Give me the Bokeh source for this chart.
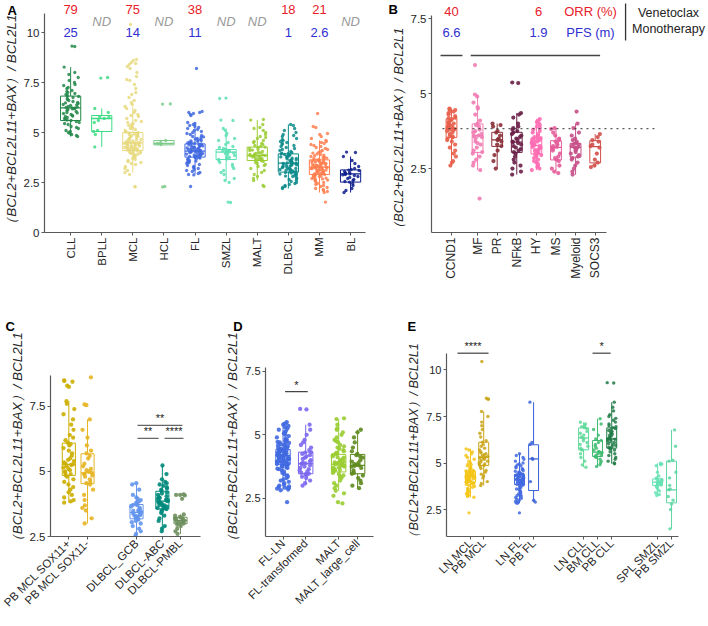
from math import pi
from bokeh.plotting import figure
from bokeh.layouts import column, row
from bokeh.models import (ColumnDataSource, Range1d, FixedTicker, CustomJSTickFormatter,
                          LabelSet, Label)
from bokeh.core.properties import value
from bokeh.transform import jitter
from bokeh.embed import file_html
from bokeh.resources import INLINE

FONT = "Liberation Sans"
YLAB = "（BCL2+BCL2L11+BAX）/ BCL2L1"
NB = "\u00a0"

# ---------------- Panel A data ----------------
a_names = ["CLL", "BPLL", "MCL", "HCL", "FL", "SMZL", "MALT", "DLBCL", "MM", "BL"]
a_colors = ["#23884A", "#3DDC84", "#E8D97E", "#7CCB8A", "#4169E1", "#5EE0B4",
            "#9ACD32", "#0A8A8A", "#FF7F50", "#0D1C8C"]
a_q1 = [5.6, 5.05, 4.1, 4.38, 3.77, 3.65, 3.6, 3.02, 2.9, 2.52]
a_med = [6.23, 5.7, 4.48, 4.45, 4.07, 4.02, 3.85, 3.47, 3.27, 2.93]
a_q3 = [6.82, 5.85, 5.0, 4.6, 4.43, 4.15, 4.27, 3.93, 3.63, 3.13]
a_lo = [4.8, 4.28, 3.0, 4.38, 2.9, 2.6, 2.6, 2.2, 2.0, 2.0]
a_hi = [8.27, 6.2, 6.3, 4.6, 5.5, 5.2, 5.62, 5.4, 4.6, 3.8]
a_orr = ["79", "", "75", "", "38", "", "", "18", "21", ""]
a_pfs = ["25", "", "14", "", "11", "", "", "1", "2.6", ""]
a_nd = ["", "ND", "", "ND", "", "ND", "ND", "", "", "ND"]
a_yticks = [0, 2.5, 5, 7.5, 10]

cll = [9.32, 9.3, 8.27, 8.0, 7.9, 7.75, 7.6, 7.5, 7.4, 7.35, 7.25, 7.2, 7.1, 7.05, 7.0, 6.95,
       6.9, 6.85, 6.82, 6.8, 6.75, 6.7, 6.65, 6.6, 6.55, 6.5, 6.48, 6.45, 6.4, 6.38, 6.35, 6.3,
       6.28, 6.25, 6.23, 6.22, 6.2, 6.18, 6.15, 6.1, 6.05, 6.0, 5.98, 5.95, 5.9, 5.85, 5.82,
       5.8, 5.75, 5.7, 5.65, 5.62, 5.6, 5.55, 5.5, 5.45, 5.4, 5.3, 5.25, 5.2, 5.1, 5.05, 5.0,
       4.95, 4.9, 4.85, 4.8]
bpll = [7.75, 7.72, 6.2, 6.0, 5.8, 5.75, 5.7, 5.6, 5.5, 5.1, 5.05, 4.9, 4.28]
mcl = [10.4, 8.65, 8.6, 8.5, 8.45, 8.4, 8.3, 8.2, 8.0, 7.8, 7.65, 7.6, 7.4, 7.2, 7.0, 6.9,
       6.75, 6.6, 6.5, 6.4, 6.3, 6.2, 6.1, 6.0, 5.9, 5.85, 5.8, 5.7, 5.6, 5.55, 5.5, 5.45,
       5.4, 5.35, 5.3, 5.25, 5.2, 5.15, 5.1, 5.05, 5.02, 5.0, 4.98, 4.95, 4.92, 4.9, 4.88,
       4.85, 4.82, 4.8, 4.78, 4.75, 4.72, 4.7, 4.68, 4.65, 4.62, 4.6, 4.58, 4.55, 4.53, 4.5,
       4.49, 4.48, 4.47, 4.46, 4.45, 4.43, 4.42, 4.4, 4.38, 4.36, 4.35, 4.33, 4.32, 4.3,
       4.28, 4.26, 4.25, 4.23, 4.22, 4.2, 4.18, 4.16, 4.15, 4.13, 4.12, 4.1, 4.08, 4.05,
       4.02, 4.0, 3.97, 3.95, 3.92, 3.9, 3.85, 3.8, 3.75, 3.7, 3.65, 3.6, 3.55, 3.5, 3.45,
       3.4, 3.3, 3.2, 3.1, 3.0, 2.9, 2.3, 2.28]
hcl = [6.43, 6.42, 4.6, 4.5, 4.45, 4.4, 2.3, 2.28]
fl = [8.2, 6.05, 6.0, 6.0, 5.95, 5.9, 5.85, 5.5, 5.45, 5.4, 5.35, 5.3, 5.25, 5.2, 5.15, 5.1,
      5.05, 5.0, 4.95, 4.9, 4.85, 4.8, 4.78, 4.75, 4.7, 4.68, 4.65, 4.62, 4.6, 4.58, 4.55,
      4.52, 4.5, 4.48, 4.45, 4.43, 4.42, 4.4, 4.38, 4.36, 4.35, 4.33, 4.3, 4.28, 4.27, 4.25,
      4.23, 4.22, 4.2, 4.18, 4.17, 4.15, 4.13, 4.12, 4.1, 4.09, 4.08, 4.07, 4.06, 4.05, 4.03,
      4.02, 4.0, 3.98, 3.97, 3.95, 3.93, 3.92, 3.9, 3.88, 3.86, 3.85, 3.83, 3.82, 3.8, 3.78,
      3.77, 3.75, 3.72, 3.7, 3.68, 3.65, 3.62, 3.6, 3.57, 3.55, 3.52, 3.5, 3.45, 3.4, 3.35,
      3.3, 3.25, 3.2, 3.15, 3.1, 3.05, 3.0, 2.95, 2.9, 2.88, 2.3]
smzl = [6.72, 6.7, 5.62, 5.6, 5.2, 5.1, 4.95, 4.85, 4.7, 4.6, 4.5, 4.4, 4.3, 4.25, 4.2, 4.15,
        4.12, 4.1, 4.08, 4.05, 4.03, 4.02, 4.0, 3.98, 3.95, 3.9, 3.85, 3.8, 3.75, 3.7, 3.68,
        3.65, 3.6, 3.5, 3.4, 3.3, 3.2, 3.1, 3.0, 2.9, 2.7, 2.6, 2.5, 1.52, 1.5]
malt = [5.65, 5.62, 5.4, 5.25, 5.2, 5.1, 5.0, 4.9, 4.8, 4.75, 4.7, 4.6, 4.55, 4.5, 4.45, 4.4,
        4.35, 4.3, 4.27, 4.25, 4.2, 4.15, 4.12, 4.1, 4.05, 4.0, 3.98, 3.95, 3.92, 3.9, 3.88,
        3.86, 3.85, 3.84, 3.82, 3.8, 3.78, 3.75, 3.72, 3.7, 3.68, 3.65, 3.62, 3.6, 3.55, 3.5,
        3.45, 3.4, 3.35, 3.3, 3.2, 3.1, 3.0, 2.9, 2.8, 2.7, 2.6, 2.35, 2.3]
dlbcl = [5.4, 5.35, 5.2, 5.1, 5.0, 4.9, 4.85, 4.8, 4.7, 4.65, 4.6, 4.55, 4.5, 4.45, 4.4, 4.35,
         4.3, 4.25, 4.2, 4.15, 4.1, 4.05, 4.0, 3.97, 3.95, 3.93, 3.9, 3.88, 3.85, 3.82, 3.8,
         3.78, 3.75, 3.72, 3.7, 3.68, 3.65, 3.62, 3.6, 3.58, 3.55, 3.53, 3.5, 3.48, 3.47, 3.46,
         3.45, 3.43, 3.42, 3.4, 3.38, 3.36, 3.35, 3.33, 3.3, 3.28, 3.26, 3.25, 3.22, 3.2, 3.18,
         3.16, 3.15, 3.12, 3.1, 3.08, 3.05, 3.03, 3.02, 3.0, 2.97, 2.95, 2.92, 2.9, 2.87, 2.85,
         2.82, 2.8, 2.75, 2.7, 2.65, 2.6, 2.55, 2.5, 2.45, 2.4, 2.35, 2.3, 2.25, 2.2]
mm = [5.95, 5.3, 5.25, 4.95, 4.9, 4.8, 4.7, 4.6, 4.55, 4.5, 4.45, 4.4, 4.35, 4.3, 4.25, 4.2,
      4.15, 4.1, 4.05, 4.0, 3.97, 3.93, 3.9, 3.87, 3.84, 3.8, 3.78, 3.75, 3.72, 3.7, 3.68,
      3.65, 3.63, 3.62, 3.6, 3.58, 3.56, 3.55, 3.53, 3.52, 3.5, 3.48, 3.46, 3.45, 3.43, 3.42,
      3.4, 3.38, 3.37, 3.35, 3.34, 3.32, 3.3, 3.29, 3.28, 3.27, 3.26, 3.25, 3.24, 3.22, 3.2,
      3.19, 3.18, 3.16, 3.15, 3.13, 3.12, 3.1, 3.08, 3.07, 3.05, 3.03, 3.02, 3.0, 2.98, 2.96,
      2.95, 2.93, 2.92, 2.9, 2.88, 2.86, 2.84, 2.82, 2.8, 2.78, 2.75, 2.72, 2.7, 2.68, 2.65,
      2.62, 2.6, 2.55, 2.5, 2.45, 2.4, 2.35, 2.3, 2.25, 2.2, 2.15, 2.1, 2.05, 2.0, 1.52]
bl = [4.02, 4.0, 3.8, 3.6, 3.45, 3.3, 3.2, 3.15, 3.12, 3.1, 3.05, 3.0, 2.98, 2.95, 2.93, 2.9,
      2.88, 2.85, 2.8, 2.75, 2.7, 2.65, 2.6, 2.55, 2.52, 2.45, 2.35, 2.2, 2.1, 2.0]
a_points = [cll, bpll, mcl, hcl, fl, smzl, malt, dlbcl, mm, bl]

# ---------------- Panel B data ----------------
b_names = ["CCND1", "MF", "PR", "NFkB", "HY", "MS", "Myeloid", "SOCS3"]
b_colors = ["#E8604C", "#F27CB2", "#8B3038", "#6A1F47", "#FF6EB4", "#E45C9A", "#C65088", "#D2504A"]
b_q1 = [3.54, 3.04, 3.24, 3.04, 2.99, 2.79, 2.88, 2.69]
b_med = [3.84, 3.6, 3.46, 3.38, 3.27, 3.21, 3.21, 3.23]
b_q3 = [4.16, 3.99, 3.71, 3.71, 3.52, 3.43, 3.34, 3.43]
b_lo = [2.6, 2.45, 2.5, 2.3, 2.45, 2.35, 2.3, 2.55]
b_hi = [4.5, 4.97, 4.0, 4.35, 4.15, 3.85, 4.0, 3.65]
b_threshold = 3.83
b_yticks = [2.5, 5, 7.5]
b_orr = ["40", "6", "ORR (%)"]
b_pfs = ["6.6", "1.9", "PFS (m)"]
b_therapy = ["Venetoclax", "Monotherapy"]

ccnd1 = [4.5, 4.48, 4.45, 4.42, 4.4, 4.35, 4.3, 4.25, 4.2, 4.18, 4.15, 4.12, 4.1, 4.05, 4.02,
         4.0, 3.97, 3.95, 3.92, 3.9, 3.88, 3.85, 3.84, 3.82, 3.8, 3.78, 3.75, 3.7, 3.65, 3.6,
         3.57, 3.54, 3.5, 3.45, 3.4, 3.3, 3.2, 3.1, 3.0, 2.9, 2.75, 2.7, 2.6]
mf = [5.95, 4.97, 4.9, 4.7, 4.55, 4.5, 4.3, 4.1, 4.0, 3.95, 3.9, 3.8, 3.75, 3.7, 3.65, 3.6,
      3.58, 3.55, 3.5, 3.4, 3.35, 3.3, 3.2, 3.1, 3.05, 3.0, 2.9, 2.8, 2.7, 2.6, 2.45, 1.5]
pr = [4.0, 3.95, 3.9, 3.75, 3.7, 3.6, 3.5, 3.47, 3.45, 3.4, 3.3, 3.25, 3.1, 2.95, 2.75, 2.5]
nfkb = [5.37, 5.35, 4.35, 4.3, 4.2, 4.0, 3.9, 3.85, 3.8, 3.75, 3.7, 3.65, 3.6, 3.55, 3.5, 3.45,
        3.4, 3.38, 3.35, 3.3, 3.25, 3.2, 3.15, 3.1, 3.05, 3.0, 2.9, 2.8, 2.7, 2.6, 2.5, 2.4, 2.3]
hy = [4.15, 4.1, 4.05, 4.0, 3.95, 3.9, 3.85, 3.8, 3.75, 3.7, 3.65, 3.6, 3.55, 3.52, 3.5, 3.48,
      3.45, 3.42, 3.4, 3.38, 3.35, 3.32, 3.3, 3.28, 3.27, 3.25, 3.22, 3.2, 3.18, 3.15, 3.12,
      3.1, 3.08, 3.05, 3.02, 3.0, 2.97, 2.95, 2.9, 2.85, 2.8, 2.75, 2.7, 2.65, 2.6, 2.55, 2.5, 2.45]
ms = [3.85, 3.82, 3.7, 3.6, 3.5, 3.45, 3.4, 3.35, 3.3, 3.25, 3.22, 3.2, 3.15, 3.1, 3.0, 2.9,
      2.85, 2.8, 2.75, 2.6, 2.5, 2.4, 2.35]
myeloid = [4.4, 4.0, 3.85, 3.7, 3.6, 3.5, 3.45, 3.4, 3.35, 3.32, 3.3, 3.25, 3.22, 3.2, 3.18,
           3.15, 3.1, 3.05, 3.0, 2.95, 2.9, 2.85, 2.8, 2.7, 2.6, 2.5, 2.4, 2.3]
socs3 = [3.65, 3.55, 3.45, 3.4, 3.3, 3.25, 3.2, 3.0, 2.8, 2.7, 2.6, 2.55]
b_points = [ccnd1, mf, pr, nfkb, hy, ms, myeloid, socs3]

# ---------------- Panel C data ----------------
c_names = ["PB MCL SOX11+", "PB MCL SOX11-", "DLBCL_GCB", "DLBCL-ABC", "DLBCL-PMBL"]
c_colors = ["#CCAE00", "#E6B422", "#6495ED", "#00897B", "#6E8F5E"]
c_q1 = [4.85, 4.53, 3.18, 3.56, 2.99]
c_med = [5.27, 4.95, 3.43, 3.86, 3.12]
c_q3 = [6.09, 5.68, 3.73, 4.24, 3.24]
c_lo = [3.8, 3.0, 2.52, 2.7, 2.6]
c_hi = [7.7, 7.0, 4.55, 5.23, 3.35]
c_yticks = [2.5, 5, 7.5]
c_sig_x0 = [4.67, 4.67, 6.12]
c_sig_x1 = [7.07, 5.8, 7.13]
c_sig_y = [6.77, 6.27, 6.27]
c_sig_t = ["**", "**", "****"]

sox_pos = [8.5, 8.48, 8.45, 8.3, 8.25, 7.7, 7.6, 7.4, 7.2, 7.0, 6.8, 6.6, 6.4, 6.3, 6.2, 6.1,
           6.05, 6.0, 5.9, 5.8, 5.7, 5.6, 5.5, 5.45, 5.4, 5.35, 5.3, 5.27, 5.25, 5.2, 5.15, 5.1,
           5.05, 5.0, 4.95, 4.9, 4.85, 4.8, 4.7, 4.6, 4.5, 4.4, 4.3, 4.2, 4.1, 4.0, 3.9, 3.85, 3.8]
sox_neg = [8.62, 7.58, 7.55, 7.0, 6.6, 6.3, 6.0, 5.8, 5.7, 5.6, 5.5, 5.3, 5.2, 5.1, 5.05, 5.0,
           4.95, 4.92, 4.9, 4.85, 4.8, 4.7, 4.6, 4.55, 4.5, 4.3, 4.1, 3.9, 3.7, 3.6, 3.5, 3.2, 3.0]
gcb = [4.55, 4.5, 4.3, 4.1, 4.0, 3.95, 3.9, 3.85, 3.8, 3.75, 3.72, 3.7, 3.65, 3.6, 3.55, 3.5,
       3.48, 3.45, 3.43, 3.4, 3.38, 3.35, 3.32, 3.3, 3.28, 3.25, 3.22, 3.2, 3.18, 3.15, 3.1,
       3.05, 3.0, 2.9, 2.8, 2.7, 2.6, 2.52]
abc = [5.23, 4.9, 4.7, 4.6, 4.55, 4.5, 4.45, 4.4, 4.35, 4.3, 4.25, 4.2, 4.15, 4.1, 4.05, 4.0,
       3.98, 3.95, 3.92, 3.9, 3.88, 3.86, 3.84, 3.82, 3.8, 3.77, 3.75, 3.72, 3.7, 3.68, 3.65,
       3.62, 3.6, 3.58, 3.55, 3.5, 3.45, 3.4, 3.3, 3.2, 3.1, 2.9, 2.8, 2.7]
pmbl = [4.12, 4.1, 4.1, 4.08, 3.95, 3.35, 3.3, 3.25, 3.22, 3.2, 3.18, 3.15, 3.12, 3.1, 3.08,
        3.05, 3.02, 3.0, 2.95, 2.9, 2.8, 2.7, 2.6]
c_points = [sox_pos, sox_neg, gcb, abc, pmbl]

# ---------------- Panel D data ----------------
d_names = ["FL-LN", "FL-transformed", "MALT", "MALT_large_cell"]
d_colors = ["#4169E1", "#7B68EE", "#9ACD32", "#5E8A1E"]
d_q1 = [3.84, 3.47, 3.54, 3.47]
d_med = [4.19, 3.87, 3.84, 3.8]
d_q3 = [4.42, 4.32, 4.23, 4.23]
d_lo = [2.82, 3.0, 2.8, 2.9]
d_hi = [5.5, 5.4, 5.62, 5.2]
d_yticks = [2.5, 5, 7.5]
d_sig_x0 = [1.1]
d_sig_x1 = [2.2]
d_sig_y = [6.7]
d_sig_t = ["*"]

fl_ln = [5.5, 5.45, 5.4, 5.35, 5.3, 5.25, 5.2, 5.15, 5.1, 5.05, 5.0, 4.95, 4.9, 4.85, 4.8,
         4.78, 4.75, 4.72, 4.7, 4.68, 4.65, 4.62, 4.6, 4.58, 4.55, 4.52, 4.5, 4.48, 4.45, 4.43,
         4.42, 4.4, 4.38, 4.36, 4.35, 4.33, 4.32, 4.3, 4.28, 4.27, 4.25, 4.24, 4.22, 4.21, 4.2,
         4.19, 4.18, 4.17, 4.16, 4.15, 4.13, 4.12, 4.1, 4.09, 4.08, 4.06, 4.05, 4.03, 4.02, 4.0,
         3.98, 3.96, 3.95, 3.93, 3.92, 3.9, 3.88, 3.86, 3.85, 3.84, 3.82, 3.8, 3.77, 3.75, 3.72,
         3.7, 3.67, 3.65, 3.6, 3.55, 3.5, 3.45, 3.4, 3.35, 3.3, 3.25, 3.2, 3.15, 3.1, 3.05, 3.0,
         2.97, 2.95, 2.92, 2.9, 2.88, 2.85, 2.82, 2.35]
fl_tr = [6.02, 6.0, 5.4, 5.2, 5.0, 4.8, 4.7, 4.6, 4.5, 4.4, 4.32, 4.3, 4.25, 4.2, 4.15, 4.1,
         4.05, 4.0, 3.95, 3.9, 3.88, 3.87, 3.85, 3.8, 3.75, 3.7, 3.65, 3.6, 3.55, 3.5, 3.47,
         3.45, 3.4, 3.35, 3.3, 3.2, 3.1, 3.0]
malt_lc = [5.2, 5.1, 4.9, 4.7, 4.5, 4.35, 4.25, 4.2, 4.15, 4.1, 4.0, 3.95, 3.9, 3.85, 3.82,
           3.8, 3.78, 3.75, 3.7, 3.6, 3.5, 3.47, 3.4, 3.3, 3.2, 3.1, 3.0, 2.9]
d_points = [fl_ln, fl_tr, malt, malt_lc]

# ---------------- Panel E data ----------------
e_names = ["LN MCL", "PB MCL", "LN FL", "PB FL", "LN CLL", "BM CLL", "PB CLL", "SPL SMZL", "PB SMZL"]
e_colors = ["#F5C518", "#C9A514", "#4169E1", "#3A60D8", "#5FD99A", "#3DBB70", "#1F7A45",
            "#66E3B5", "#5CD6A3"]
e_q1 = [3.97, 4.87, 3.84, 3.52, 5.71, 5.35, 5.8, 3.79, 2.86]
e_med = [4.29, 5.31, 4.11, 5.22, 6.35, 5.58, 6.3, 3.97, 3.56]
e_q3 = [4.56, 6.12, 4.38, 5.98, 6.89, 6.21, 6.89, 4.15, 5.1]
e_lo = [3.16, 3.79, 2.84, 2.9, 4.77, 4.81, 4.96, 3.25, 1.46]
e_hi = [5.76, 7.77, 5.5, 8.27, 7.19, 7.38, 8.27, 4.99, 6.78]
e_yticks = [2.5, 5, 7.5, 10]
e_sig_x0 = [0.08, 9.59]
e_sig_x1 = [2.27, 10.86]
e_sig_y = [10.9, 10.9]
e_sig_t = ["****", "*"]

ln_mcl = [5.76, 5.7, 5.6, 5.5, 5.4, 5.3, 5.2, 5.1, 5.0, 4.95, 4.9, 4.85, 4.8, 4.75, 4.7, 4.67,
          4.64, 4.6, 4.58, 4.56, 4.54, 4.52, 4.5, 4.48, 4.46, 4.44, 4.42, 4.4, 4.38, 4.36, 4.34,
          4.32, 4.3, 4.29, 4.28, 4.27, 4.26, 4.25, 4.23, 4.22, 4.2, 4.18, 4.16, 4.14, 4.12, 4.1,
          4.08, 4.06, 4.04, 4.02, 4.0, 3.98, 3.97, 3.95, 3.92, 3.9, 3.87, 3.85, 3.8, 3.75, 3.7,
          3.65, 3.6, 3.55, 3.5, 3.45, 3.4, 3.35, 3.3, 3.25, 3.2, 3.16, 2.32]
pb_mcl = [10.46, 8.48, 8.45, 8.42, 7.77, 7.5, 7.2, 7.0, 6.8, 6.6, 6.4, 6.2, 6.12, 6.0, 5.9,
          5.8, 5.7, 5.6, 5.55, 5.5, 5.45, 5.4, 5.35, 5.31, 5.28, 5.25, 5.2, 5.15, 5.1, 5.05,
          5.0, 4.95, 4.9, 4.87, 4.8, 4.7, 4.6, 4.5, 4.4, 4.3, 4.2, 4.0, 3.9, 3.79]
ln_fl = [5.5, 5.4, 5.3, 5.2, 5.1, 5.0, 4.95, 4.9, 4.85, 4.8, 4.75, 4.7, 4.65, 4.6, 4.56, 4.52,
         4.48, 4.45, 4.42, 4.4, 4.38, 4.36, 4.34, 4.32, 4.3, 4.28, 4.26, 4.24, 4.22, 4.2, 4.18,
         4.16, 4.14, 4.12, 4.11, 4.1, 4.08, 4.06, 4.04, 4.02, 4.0, 3.98, 3.96, 3.94, 3.92, 3.9,
         3.88, 3.86, 3.84, 3.8, 3.75, 3.7, 3.65, 3.6, 3.55, 3.5, 3.45, 3.4, 3.35, 3.3, 3.25,
         3.2, 3.15, 3.1, 3.05, 3.0, 2.95, 2.9, 2.86, 2.84, 2.32]
pb_fl = [8.27, 6.1, 6.0, 5.25, 5.2, 4.0, 3.0, 2.9]
ln_cll = [7.19, 7.1, 7.0, 6.95, 6.9, 6.85, 6.7, 6.6, 6.5, 6.4, 6.35, 6.3, 6.2, 6.1, 6.0, 5.9,
          5.8, 5.72, 5.7, 5.5, 5.3, 5.1, 4.9, 4.77]
bm_cll = [7.38, 7.1, 6.8, 6.5, 6.3, 6.21, 6.1, 6.0, 5.9, 5.8, 5.7, 5.62, 5.58, 5.55, 5.5, 5.45,
          5.4, 5.35, 5.3, 5.2, 5.1, 5.0, 4.9, 4.81]
pb_cll = [9.32, 9.3, 8.27, 8.0, 7.8, 7.6, 7.5, 7.4, 7.3, 7.2, 7.1, 7.0, 6.95, 6.9, 6.85, 6.8,
          6.75, 6.7, 6.65, 6.6, 6.55, 6.5, 6.45, 6.4, 6.35, 6.32, 6.3, 6.28, 6.25, 6.2, 6.15,
          6.1, 6.05, 6.0, 5.95, 5.9, 5.85, 5.8, 5.75, 5.7, 5.6, 5.5, 5.4, 5.3, 5.2, 5.1, 5.0, 4.96]
spl_smzl = [4.99, 4.95, 4.9, 4.85, 4.5, 4.3, 4.2, 4.15, 4.12, 4.1, 4.05, 4.02, 4.0, 3.98, 3.97,
            3.95, 3.92, 3.9, 3.87, 3.85, 3.82, 3.8, 3.75, 3.7, 3.6, 3.5, 3.4, 3.3, 3.25]
pb_smzl = [6.78, 5.9, 5.15, 5.1, 4.5, 4.2, 3.8, 3.6, 3.56, 3.2, 3.0, 2.8, 2.5, 1.46]
e_points = [ln_mcl, pb_mcl, ln_fl, pb_fl, ln_cll, bm_cll, pb_cll, spl_smzl, pb_smzl]

# ---------------- layout constants (category positions on numeric axes) ----------------
a_pos = list(range(len(a_names)))
b_pos = [1, 2.33, 3.33, 4.33, 5.33, 6.33, 7.33, 8.33]
c_pos = [1, 2, 4.62, 6.0, 6.97]
d_pos = [1, 2.1, 3.7, 4.62]
e_pos = [1, 1.93, 4.45, 5.44, 8.96, 9.94, 10.94, 14.17, 15.15]

AXC = "#595959"
TXC = "#262626"


def panel(width, height, xr, yr, bl, br, bt, bb, xb=None, yb=None):
    p = figure(width=width, height=height, x_range=Range1d(*xr), y_range=Range1d(*yr),
               output_backend="svg", toolbar_location=None,
               min_border_left=bl, min_border_right=br, min_border_top=bt, min_border_bottom=bb)
    p.outline_line_color = None
    p.xgrid.visible = False
    p.ygrid.visible = False
    for ax in (p.xaxis[0], p.yaxis[0]):
        ax.axis_line_color = AXC
        ax.axis_line_width = 1.2
        ax.major_tick_line_color = AXC
        ax.major_tick_out = 3
        ax.major_tick_in = 0
        ax.minor_tick_line_color = None
        ax.major_label_text_font = FONT
        ax.major_label_text_color = TXC
        ax.major_label_standoff = 2
    if xb is not None:
        p.xaxis.bounds = xb
    if yb is not None:
        p.yaxis.bounds = yb
    return p


def set_ticks(p, pos, labels, angle, xfs, yticks, yfs, ylab_fs, pad=0):
    p.xaxis.ticker = FixedTicker(ticks=pos)
    p.xaxis.formatter = CustomJSTickFormatter(args=dict(pos=pos, labels=labels), code="""
        const i = pos.findIndex(v => Math.abs(v - tick) < 1e-6);
        return i >= 0 ? labels[i] : "";
    """)
    p.xaxis.major_label_orientation = angle
    p.xaxis.major_label_text_font_size = xfs
    p.yaxis.ticker = FixedTicker(ticks=yticks)
    p.yaxis.formatter = CustomJSTickFormatter(code="return String(tick);")
    p.yaxis.major_label_text_font_size = yfs
    # trailing no-break spaces nudge the label so it centres on the drawn axis line
    p.yaxis.axis_label = YLAB + NB * pad
    p.yaxis.axis_label_text_font = FONT
    p.yaxis.axis_label_text_font_style = "italic"
    p.yaxis.axis_label_text_font_size = ylab_fs
    p.yaxis.axis_label_text_color = TXC
    p.yaxis.axis_label_standoff = 2


def draw_boxes(p, pos, q1, med, q3, lo, hi, colors, w):
    src = ColumnDataSource(dict(x=pos, q1=q1, med=med, q3=q3, lo=lo, hi=hi, c=colors,
                                xl=[x - w / 2 for x in pos], xr=[x + w / 2 for x in pos]))
    p.segment("x", "q3", "x", "hi", source=src, line_color="c", line_width=1)
    p.segment("x", "q1", "x", "lo", source=src, line_color="c", line_width=1)
    p.vbar(x="x", width=w, top="q3", bottom="q1", source=src, fill_color="white",
           fill_alpha=0.0, line_color="c", line_width=1)
    p.segment("xl", "med", "xr", "med", source=src, line_color="c", line_width=1.3)


def draw_points(p, pos, groups, colors, jw, size, alpha):
    xs, ys, cs = [], [], []
    for x, vals, c in zip(pos, groups, colors):
        xs += [x] * len(vals)
        ys += vals
        cs += [c] * len(vals)
    src = ColumnDataSource(dict(x=xs, y=ys, c=cs))
    p.scatter(x=jitter("x", width=jw, distribution="uniform"), y="y", source=src,
              size=size, fill_color="c", line_color=None, fill_alpha=alpha)


def letter(p, txt, x, y, side):
    # a panel letter placed in a side panel (not clipped to the frame)
    p.add_layout(Label(x=x, y=y, text=txt, text_font=FONT, text_font_style="bold",
                       text_font_size="13px", text_color="black", text_align="left",
                       text_baseline="top"), side)


def texts(p, xs, ys, ts, color, fs="13px", style="normal", align="center"):
    src = ColumnDataSource(dict(x=xs, y=ys, t=ts))
    p.add_layout(LabelSet(x="x", y="y", text="t", source=src, text_align=align,
                          text_baseline="middle", text_font=value(FONT), text_font_size=fs,
                          text_font_style=style, text_color=color))


def sig(p, x0, x1, yv, t, color, fs, dy):
    p.segment(x0=x0, y0=yv, x1=x1, y1=yv, line_color=color, line_width=1.3)
    src = ColumnDataSource(dict(x=[(a + b) / 2 for a, b in zip(x0, x1)], y=yv, t=t))
    p.add_layout(LabelSet(x="x", y="y", text="t", source=src, y_offset=dy,
                          text_align="center", text_baseline="bottom",
                          text_font=value(FONT), text_font_size=fs, text_color="#222222"))


# ---------------- Panel A ----------------
pA = panel(366, 312, (-0.84, 9.48), (0, 11.55), 44, 1, 1, 80, yb=(0, 10.95))
set_ticks(pA, a_pos, a_names, pi / 2, "11.5px", a_yticks, "11.5px", "13.5px", pad=3)
draw_boxes(pA, a_pos, a_q1, a_med, a_q3, a_lo, a_hi, a_colors, 0.65)
draw_points(pA, a_pos, a_points, a_colors, 0.55, 3.3, 0.85)
texts(pA, a_pos, [11.15] * 10, a_orr, "#E8202A")
texts(pA, a_pos, [10.0] * 10, a_pfs, "#2F2FD0")
texts(pA, a_pos, [10.57] * 10, a_nd, "#9A9A9A", style="italic")
letter(pA, "A", -2.03, 11.5, "below")

# ---------------- Panel B ----------------
pB = panel(342, 312, (-0.02, 14.11), (0.37, 8.07), 65, 0, 1, 80,
           xb=(-0.02, 8.91), yb=(0.37, 7.6))
set_ticks(pB, b_pos, b_names, pi / 2, "12px", b_yticks, "11.5px", "13px", pad=8)
draw_boxes(pB, b_pos, b_q1, b_med, b_q3, b_lo, b_hi, b_colors, 0.55)
draw_points(pB, b_pos, b_points, b_colors, 0.5, 4.2, 0.9)
pB.segment(x0=[0.54], y0=[b_threshold], x1=[11.41], y1=[b_threshold],
           line_color="#333333", line_width=1, line_dash="dotted")
pB.segment(x0=[b_pos[0] - 0.56, b_pos[1] - 0.35], y0=[6.27, 6.27],
           x1=[b_pos[0] + 0.56, b_pos[-1] + 0.25], y1=[6.27, 6.27],
           line_color="#444444", line_width=1.5)
texts(pB, [b_pos[0], 5.44, 8.09], [7.74] * 3, b_orr, "#E8202A")
texts(pB, [b_pos[0], 5.44, 8.09], [7.04] * 3, b_pfs, "#2F2FD0")
pB.segment(x0=[9.88], y0=[8.0], x1=[9.88], y1=[6.77], line_color="#333333", line_width=1.3)
texts(pB, [12.07, 12.07], [7.7, 7.17], b_therapy, "#222222", fs="12.5px")
letter(pB, "B", -2.21, 8.04, "below")

# ---------------- Row 2: frames share top (page 336) and bottom (page 536) ----------------
# ---------------- Panel C ----------------
pC = panel(222, 312, (0.02, 8.04), (2.5, 10.19), 50, 22, 24, 88, yb=(2.5, 8.69))
set_ticks(pC, c_pos, c_names, pi / 4, "11.5px", c_yticks, "11.5px", "13.5px", pad=2)
draw_boxes(pC, c_pos, c_q1, c_med, c_q3, c_lo, c_hi, c_colors, 0.7)
draw_points(pC, c_pos, c_points, c_colors, 0.6, 4.3, 0.9)
sig(pC, c_sig_x0, c_sig_x1, c_sig_y, c_sig_t, "#666666", "11px", 1)
letter(pC, "C", -2.39, 10.85, "above")

# ---------------- Panel D ----------------
pD = panel(176, 312, (0.15, 5.39), (1.0, 8.87), 41, 25, 24, 88, yb=(1.0, 7.65))
set_ticks(pD, d_pos, d_names, pi / 4, "11.5px", d_yticks, "11px", "13.5px", pad=2)
draw_boxes(pD, d_pos, d_q1, d_med, d_q3, d_lo, d_hi, d_colors, 0.7)
draw_points(pD, d_pos, d_points, d_colors, 0.6, 4.3, 0.9)
sig(pD, d_sig_x0, d_sig_x1, d_sig_y, d_sig_t, "#444444", "11px", 1)
letter(pD, "D", -1.42, 9.54, "above")

# ---------------- Panel E ----------------
pE = panel(310, 312, (-0.69, 15.64), (1.05, 11.8), 48, 30, 24, 88, yb=(1.05, 10.86))
set_ticks(pE, e_pos, e_names, pi / 4, "11.5px", e_yticks, "11px", "12.5px", pad=4)
draw_boxes(pE, e_pos, e_q1, e_med, e_q3, e_lo, e_hi, e_colors, 0.7)
draw_points(pE, e_pos, e_points, e_colors, 0.65, 3.4, 0.85)
sig(pE, e_sig_x0, e_sig_x1, e_sig_y, e_sig_t, "#666666", "11px", 1)
letter(pE, "E", -3.44, 12.72, "above")

layout = column(row(pA, pB), row(pC, pD, pE))
open("out.html", "w").write(file_html(layout, INLINE))
